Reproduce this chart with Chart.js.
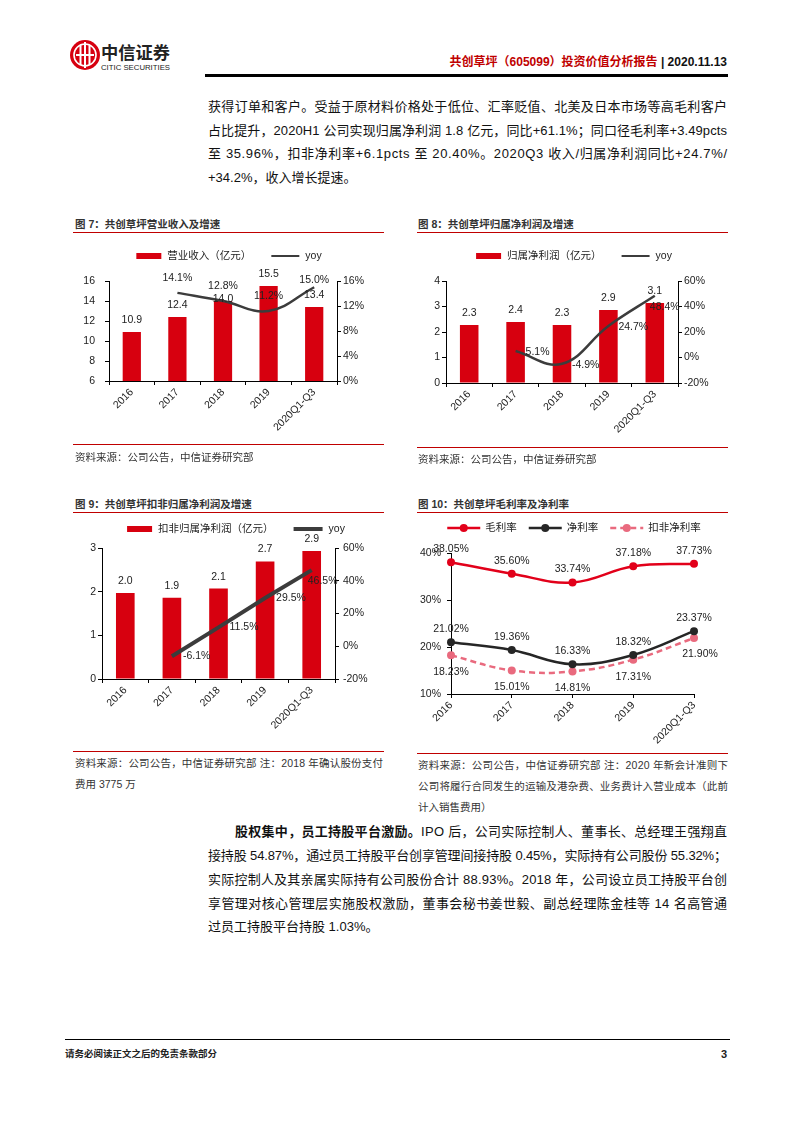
<!DOCTYPE html>
<html lang="zh-CN">
<head>
<meta charset="utf-8">
<title>共创草坪（605099）投资价值分析报告</title>
<script src="https://cdn.jsdelivr.net/npm/chart.js@4.4.1/dist/chart.umd.min.js"></script>
<style>
  html, body { margin: 0; padding: 0; background: #fff; }
  body { position: relative; width: 793px; height: 1122px; overflow: hidden;
         font-family: "Liberation Sans", "Noto Sans CJK SC", sans-serif; color: #111; }
  .abs { position: absolute; white-space: nowrap; }
  .texto { font-size: 13px; line-height: 24px; left: 208px; width: 519px; }
  .titulo { font-size: 10.5px; font-weight: bold; color: #333; line-height: 14px; }
  .fonte { font-size: 10.5px; line-height: 14px; color: #333; }
  .regua { position: absolute; height: 1px; background: #c00000; }
  canvas { position: absolute; }
</style>
</head>
<body>

<svg class="abs" style="left:66px;top:38px" width="110" height="36" viewBox="0 0 110 36">
  <circle cx="19" cy="17" r="15" fill="#d7000f"/>
  <circle cx="19" cy="17" r="11" fill="none" stroke="#fff" stroke-width="1.6"/>
  <rect x="13.5" y="7" width="2" height="20" fill="#fff"/>
  <rect x="22.5" y="7" width="2" height="20" fill="#fff"/>
  <rect x="18" y="4" width="2" height="26" fill="#fff"/>
  <rect x="10" y="16" width="18" height="2" fill="#fff"/>
  <text x="35" y="21" font-size="17" font-weight="bold" fill="#222" textLength="69" lengthAdjust="spacingAndGlyphs" font-family="Noto Sans CJK SC">中信证券</text>
  <text x="35" y="32" font-size="8" fill="#222" textLength="69" lengthAdjust="spacingAndGlyphs" font-family="Liberation Sans">CITIC SECURITIES</text>
</svg>

<div class="abs" style="right:66px;top:55px;font-size:12px;font-weight:bold;line-height:14px;">
  <span style="color:#c00000">共创草坪（605099）投资价值分析报告</span><span> | 2020.11.13</span>
</div>
<div class="abs" style="left:205px;top:74px;width:523px;height:3px;background:#000;"></div>

<div class="abs texto just" style="top:95px"><span class="c">获得订单和客户。受益于原材料价格处于低位、汇率贬值、北美及日本市场等高毛利客户</span></div>
<div class="abs texto just" style="top:119px"><span class="c">占比提升，2020H1 公司实现归属净利润 1.8 亿元，同比+61.1%；同口径毛利率+3.49pcts</span></div>
<div class="abs texto just" style="top:142px"><span class="c">至 35.96%，扣非净利率+6.1pcts 至 20.40%。2020Q3 收入/归属净利润同比+24.7%/</span></div>
<div class="abs texto" style="top:166px"><span>+34.2%，收入增长提速。</span></div>

<div class="abs titulo" style="left:75px;top:217px">图 7：共创草坪营业收入及增速</div>
<div class="regua" style="left:73px;top:232px;width:311px"></div>
<div class="abs titulo" style="left:418px;top:217px">图 8：共创草坪归属净利润及增速</div>
<div class="regua" style="left:417px;top:232px;width:311px"></div>

<canvas id="grafico-receita" width="312" height="210" style="left:73px;top:236px"></canvas>
<canvas id="grafico-lucro" width="312" height="210" style="left:418px;top:236px"></canvas>

<div class="regua" style="left:73px;top:444px;width:311px"></div>
<div class="abs fonte" style="left:75px;top:450px">资料来源：公司公告，中信证券研究部</div>
<div class="regua" style="left:417px;top:447px;width:311px"></div>
<div class="abs fonte" style="left:418px;top:452px">资料来源：公司公告，中信证券研究部</div>

<div class="abs titulo" style="left:75px;top:497px">图 9：共创草坪扣非归属净利润及增速</div>
<div class="regua" style="left:73px;top:512px;width:311px"></div>
<div class="abs titulo" style="left:418px;top:497px">图 10：共创草坪毛利率及净利率</div>
<div class="regua" style="left:417px;top:512px;width:311px"></div>

<canvas id="grafico-recorrente" width="312" height="222" style="left:73px;top:516px"></canvas>
<canvas id="grafico-margens" width="312" height="230" style="left:418px;top:516px"></canvas>

<div class="regua" style="left:73px;top:751px;width:311px"></div>
<div class="abs fonte just" style="left:75px;top:756px;width:308px"><span class="c">资料来源：公司公告，中信证券研究部 注：2018 年确认股份支付</span></div>
<div class="abs fonte" style="left:75px;top:777px">费用 3775 万</div>
<div class="regua" style="left:417px;top:753px;width:311px"></div>
<div class="abs fonte just" style="left:418px;top:758px;width:310px"><span class="c">资料来源：公司公告，中信证券研究部 注：2020 年新会计准则下</span></div>
<div class="abs fonte just" style="left:418px;top:779px;width:310px"><span class="c">公司将履行合同发生的运输及港杂费、业务费计入营业成本（此前</span></div>
<div class="abs fonte" style="left:418px;top:800px">计入销售费用）</div>

<div class="abs texto just" style="top:820px;left:235px;width:492px"><span class="c"><b>股权集中，员工持股平台激励。</b>IPO 后，公司实际控制人、董事长、总经理王强翔直</span></div>
<div class="abs texto just" style="top:844px"><span class="c">接持股 54.87%，通过员工持股平台创享管理间接持股 0.45%，实际持有公司股份 55.32%；</span></div>
<div class="abs texto just" style="top:868px"><span class="c">实际控制人及其亲属实际持有公司股份合计 88.93%。2018 年，公司设立员工持股平台创</span></div>
<div class="abs texto just" style="top:892px"><span class="c">享管理对核心管理层实施股权激励，董事会秘书姜世毅、副总经理陈金桂等 14 名高管通</span></div>
<div class="abs texto" style="top:915px"><span>过员工持股平台持股 1.03%。</span></div>

<div class="abs" style="left:65px;top:1039px;width:665px;height:1px;background:#000;"></div>
<div class="abs" style="left:65px;top:1047px;font-size:9.5px;font-weight:bold;line-height:14px;color:#222">请务必阅读正文之后的免责条款部分</div>
<div class="abs" style="right:66px;top:1047px;font-size:11px;font-weight:bold;line-height:14px;color:#222">3</div>

<script>
        const categorias = ['2016', '2017', '2018', '2019', '2020Q1-Q3'];

        // 图7 营业收入（亿元）及 yoy（%）
        const receita = [10.9, 12.4, 14.0, 15.5, 13.4];
        const receitaYoy = [null, 14.1, 12.8, 11.2, 15.0];

        // 图8 归属净利润（亿元）及 yoy（%）
        const lucroLiquido = [2.27, 2.39, 2.27, 2.86, 3.14];
        const lucroLiquidoYoy = [null, 5.1, -4.9, 24.7, 48.4];

        // 图9 扣非归属净利润（亿元）及 yoy（%）
        const lucroRecorrente = [1.97, 1.86, 2.07, 2.69, 2.93];
        const lucroRecorrenteYoy = [null, -6.1, 11.5, 29.5, 46.5];

        // 图10 毛利率 / 净利率 / 扣非净利率（%）
        const margemBruta = [38.05, 35.60, 33.74, 37.18, 37.73];
        const margemLiquida = [21.02, 19.36, 16.33, 18.32, 23.37];
        const margemRecorrente = [18.23, 15.01, 14.81, 17.31, 21.90];

        const fonteGrafico = '"Liberation Sans", "Noto Sans CJK SC", sans-serif';
        const corBarra = '#d7000f';
        const corLinha = '#3c3c3c';
        const corEixo = '#000';
        const corTexto = '#222';

        function justificarLinhas() {
            document.querySelectorAll('.just').forEach(linha => {
                const conteudo = linha.querySelector('.c');
                conteudo.style.letterSpacing = '0px';
                const natural = conteudo.getBoundingClientRect().width;
                const n = Array.from(conteudo.textContent).length;
                conteudo.style.letterSpacing = ((linha.clientWidth - natural) / (n - 1)) + 'px';
            });
        }

        const rotulosPlugin = {
            id: 'rotulos',
            afterDatasetsDraw(chart) {
                const ctx = chart.ctx;
                chart.data.datasets.forEach((ds, d) => {
                    const cfg = ds.rotulo;
                    if (!cfg) return;
                    const meta = chart.getDatasetMeta(d);
                    ctx.save();
                    ctx.font = '10.5px ' + fonteGrafico;
                    ctx.fillStyle = corTexto;
                    ctx.textBaseline = 'middle';
                    meta.data.forEach((el, i) => {
                        const v = ds.data[i];
                        if (v === null || v === undefined) return;
                        const pos = Object.assign({ dx: 0, dy: 0, alinhar: 'center' }, cfg.padrao, (cfg.ajustes || {})[i]);
                        ctx.textAlign = pos.alinhar;
                        ctx.fillText(cfg.formato(v), el.x + pos.dx, el.y + pos.dy);
                    });
                    ctx.restore();
                });
            }
        };

        const legendaPlugin = {
            id: 'legendaManual',
            afterDraw(chart, args, opts) {
                if (!opts || opts.y === undefined) return;
                const ctx = chart.ctx;
                ctx.save();
                ctx.font = '10.5px ' + fonteGrafico;
                const itens = chart.data.datasets.map(ds => ({
                    ds: ds,
                    largura: ds.legenda.largura,
                    textoW: ctx.measureText(ds.label).width
                }));
                let total = 0;
                itens.forEach((it, i) => {
                    total += it.largura + opts.gapTexto + it.textoW;
                    if (i) total += opts.gapItem;
                });
                let x = chart.width / 2 - total / 2 + (opts.dx || 0);
                const y = opts.y;
                itens.forEach(it => {
                    const ds = it.ds;
                    if ((ds.type || chart.config.type) === 'bar') {
                        ctx.fillStyle = ds.backgroundColor;
                        ctx.fillRect(x, y - 3, it.largura, 6);
                    } else {
                        ctx.strokeStyle = ds.borderColor;
                        ctx.lineWidth = ds.legenda.espessura || ds.borderWidth;
                        ctx.setLineDash(ds.borderDash || []);
                        ctx.beginPath();
                        ctx.moveTo(x, y);
                        ctx.lineTo(x + it.largura, y);
                        ctx.stroke();
                        ctx.setLineDash([]);
                        if (ds.pointRadius) {
                            ctx.fillStyle = ds.pointBackgroundColor;
                            ctx.beginPath();
                            ctx.arc(x + it.largura / 2, y, ds.pointRadius, 0, Math.PI * 2);
                            ctx.fill();
                        }
                    }
                    x += it.largura + opts.gapTexto;
                    ctx.fillStyle = corTexto;
                    ctx.textAlign = 'left';
                    ctx.textBaseline = 'middle';
                    ctx.fillText(ds.label, x, y);
                    x += it.textoW + opts.gapItem;
                });
                ctx.restore();
            }
        };

        Chart.register(rotulosPlugin, legendaPlugin);
        Chart.defaults.font.family = fonteGrafico;
        Chart.defaults.font.size = 10.5;
        Chart.defaults.color = corTexto;
        Chart.defaults.animation = false;

        function eixoVertical(min, max, passo, posicao, largura, padding, sufixo) {
            return {
                position: posicao,
                min: min,
                max: max,
                ticks: { stepSize: passo, padding: padding, color: corTexto, callback: v => v + sufixo },
                grid: { display: true, drawOnChartArea: false, drawTicks: true, tickLength: 4, color: corEixo },
                border: { display: true, color: corEixo, width: 1 },
                afterFit: s => { s.width = largura; }
            };
        }

        function eixoX(altura, offset) {
            return {
                offset: offset,
                ticks: { maxRotation: 45, minRotation: 45, padding: 1, autoSkip: false, color: corTexto },
                grid: { display: true, drawOnChartArea: false, drawTicks: true, tickLength: 4, color: corEixo, offset: offset },
                border: { display: true, color: corEixo, width: 1 },
                afterFit: s => { s.height = altura; }
            };
        }

        function criarGraficoBarraLinha(idCanvas, cfg) {
            const ctx = document.getElementById(idCanvas).getContext('2d');
            return new Chart(ctx, {
                type: 'bar',
                data: {
                    labels: categorias,
                    datasets: [{
                        label: cfg.rotuloBarra,
                        data: cfg.barras,
                        backgroundColor: corBarra,
                        borderWidth: 0,
                        yAxisID: 'y',
                        order: 1,
                        barPercentage: 0.5,
                        categoryPercentage: 0.8,
                        legenda: { largura: 25 },
                        rotulo: { formato: v => v.toFixed(1), padrao: { dy: -12 }, ajustes: cfg.ajustesBarra }
                    }, {
                        type: 'line',
                        label: 'yoy',
                        data: cfg.linha,
                        yAxisID: 'y1',
                        borderColor: corLinha,
                        backgroundColor: corLinha,
                        borderWidth: cfg.espessura,
                        tension: cfg.tensao,
                        pointRadius: 0,
                        order: 0,
                        clip: false,
                        legenda: { largura: cfg.larguraLegendaLinha, espessura: cfg.espessuraLegenda },
                        rotulo: { formato: v => v.toFixed(1) + '%', padrao: cfg.rotuloLinha, ajustes: cfg.ajustesLinha }
                    }]
                },
                options: {
                    responsive: false,
                    animation: false,
                    layout: { padding: { top: cfg.topo, left: 0, right: 0, bottom: 0 } },
                    plugins: {
                        legend: { display: false },
                        tooltip: { enabled: false },
                        legendaManual: { y: cfg.legendaY, dx: cfg.legendaDx, gapTexto: 6, gapItem: 20 }
                    },
                    scales: {
                        x: eixoX(cfg.alturaX, true),
                        y: eixoVertical(cfg.y[0], cfg.y[1], cfg.y[2], 'left', cfg.larguraEsq, cfg.padEsq, ''),
                        y1: eixoVertical(cfg.y1[0], cfg.y1[1], cfg.y1[2], 'right', cfg.larguraDir, cfg.padDir, '%')
                    }
                }
            });
        }

        function criarGraficoMargens() {
            const ctx = document.getElementById('grafico-margens').getContext('2d');
            const serie = (label, dados, cor, traco, rotulo) => ({
                label: label,
                data: dados,
                borderColor: cor,
                backgroundColor: cor,
                pointBackgroundColor: cor,
                pointBorderWidth: 0,
                pointRadius: 4,
                borderWidth: 2.5,
                borderDash: traco,
                tension: 0.4,
                clip: false,
                legenda: { largura: 33 },
                rotulo: rotulo
            });
            const pct = v => v.toFixed(2) + '%';
            return new Chart(ctx, {
                type: 'line',
                data: {
                    labels: categorias,
                    datasets: [
                        serie('毛利率', margemBruta, '#e2001a', [], { formato: pct, padrao: { dy: -13 } }),
                        serie('净利率', margemLiquida, '#262626', [], { formato: pct, padrao: { dy: -13 } }),
                        serie('扣非净利率', margemRecorrente, '#e96a7e', [6, 4], { formato: pct, padrao: { dy: 17 }, ajustes: { 4: { dx: 6, dy: 16 } } })
                    ]
                },
                options: {
                    responsive: false,
                    animation: false,
                    layout: { padding: { top: 37, left: 0, right: 36, bottom: 0 } },
                    plugins: {
                        legend: { display: false },
                        tooltip: { enabled: false },
                        legendaManual: { y: 12, dx: 0, gapTexto: 5, gapItem: 12 }
                    },
                    scales: {
                        x: eixoX(52, false),
                        y: eixoVertical(10, 40, 10, 'left', 33, 6, '%')
                    }
                }
            });
        }

        justificarLinhas();

        criarGraficoBarraLinha('grafico-receita', {
            rotuloBarra: '营业收入（亿元）',
            barras: receita,
            linha: receitaYoy,
            espessura: 2.5, tensao: 0.4,
            larguraLegendaLinha: 28, espessuraLegenda: 2,
            ajustesBarra: { 2: { dy: -2 } },
            rotuloLinha: { dy: -15 },
            ajustesLinha: { 4: { dy: -7 } },
            topo: 45, alturaX: 65, larguraEsq: 36, larguraDir: 48, padEsq: 10, padDir: 2,
            legendaY: 20, legendaDx: 0,
            y: [6, 16, 2], y1: [0, 16, 4]
        });

        criarGraficoBarraLinha('grafico-lucro', {
            rotuloBarra: '归属净利润（亿元）',
            barras: lucroLiquido,
            linha: lucroLiquidoYoy,
            espessura: 2.5, tensao: 0.4,
            larguraLegendaLinha: 28, espessuraLegenda: 2,
            ajustesBarra: {},
            rotuloLinha: { dx: 10, dy: 1, alinhar: 'left' },
            ajustesLinha: { 4: { dx: -5, dy: 11 } },
            topo: 45, alturaX: 63, larguraEsq: 28, larguraDir: 52, padEsq: 2, padDir: 2,
            legendaY: 20, legendaDx: 0,
            y: [0, 4, 1], y1: [-20, 60, 20]
        });

        criarGraficoBarraLinha('grafico-recorrente', {
            rotuloBarra: '扣非归属净利润（亿元）',
            barras: lucroRecorrente,
            linha: lucroRecorrenteYoy,
            espessura: 4, tensao: 0,
            larguraLegendaLinha: 29, espessuraLegenda: 4,
            ajustesBarra: {},
            rotuloLinha: { dx: 11, dy: 0, alinhar: 'left' },
            ajustesLinha: { 4: { dx: -4, dy: 11 } },
            topo: 32, alturaX: 59, larguraEsq: 29, larguraDir: 50, padEsq: 2, padDir: 4,
            legendaY: 13, legendaDx: 7,
            y: [0, 3, 1], y1: [-20, 60, 20]
        });

        criarGraficoMargens();
</script>
</body>
</html>
